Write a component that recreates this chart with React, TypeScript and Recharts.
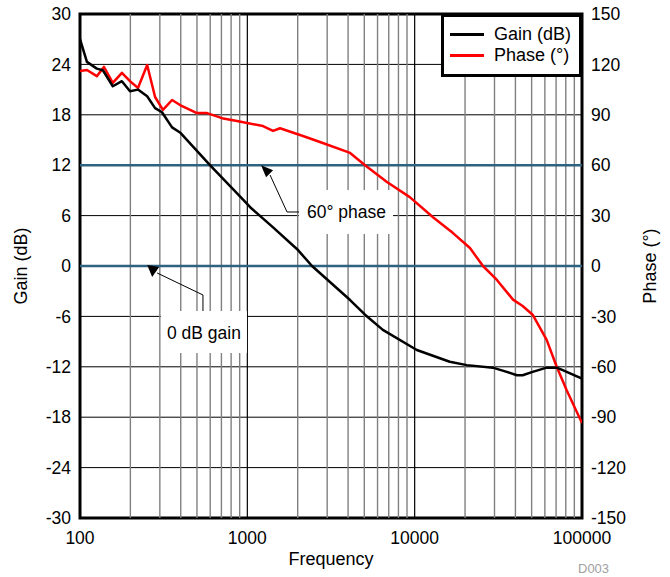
import React from 'react';
import {
  ComposedChart,
  Line,
  XAxis,
  YAxis,
  CartesianGrid,
  ReferenceLine,
  ReferenceDot,
  ReferenceArea,
  Legend,
} from 'recharts';

const FONT = '"Liberation Sans", Arial, Helvetica, sans-serif';

const gainFreq = [100, 110, 126, 137, 157, 178, 199, 222, 252, 281, 309, 355, 396, 598, 943, 1040, 1425, 1985, 2436, 4113, 5051, 6454, 10300, 16200, 20500, 29300, 35500, 40800, 44200, 50700, 61500, 70600, 76700, 100000];
const gainDb = [27.0, 24.3, 23.5, 23.3, 21.4, 22.0, 20.8, 21.0, 20.2, 18.8, 18.3, 16.5, 15.9, 12.0, 7.9, 7.0, 4.6, 2.0, 0, -4.05, -5.8, -7.6, -10, -11.4, -11.8, -12.1, -12.6, -13, -13, -12.6, -12.1, -12.1, -12.4, -13.4];

const phaseFreq = [100, 110, 126, 139, 157, 178, 199, 222, 252, 281, 313, 355, 396, 500, 574, 706, 867, 1240, 1425, 1568, 2150, 2718, 4113, 5051, 6830, 9350, 12870, 16950, 21400, 25600, 31000, 38700, 44200, 50700, 61500, 70600, 81000, 100000];
const phaseDeg = [116, 116.7, 113, 118.5, 109, 115, 110, 106, 119.6, 100.6, 92.9, 98.8, 95.8, 91, 91, 88, 86.3, 83.3, 80.4, 82, 77.4, 73.8, 67.3, 60, 50, 41, 29, 19.6, 10.7, 0, -8.3, -20, -23.8, -29, -44, -60, -74, -93.5];

const xTicks = [100, 1000, 10000, 100000];
const leftTicks = [-30, -24, -18, -12, -6, 0, 6, 12, 18, 24, 30];
const rightTicks = [-150, -120, -90, -60, -30, 0, 30, 60, 90, 120, 150];
const minorGrid = [200, 300, 400, 500, 600, 700, 800, 900, 2000, 3000, 4000, 5000, 6000, 7000, 8000, 9000, 20000, 30000, 40000, 50000, 60000, 70000, 80000, 90000];
const majorGrid = [1000, 10000];
const markerLines = [12, 0];

// annotation anchors (frequency, gain dB)
const phaseArrowTip = { f: 1208, g: 12 };
const phaseLeader = [
  { x: 1367, y: 10.83 },
  { x: 1727, y: 6.43 },
  { x: 2065, y: 6.43 },
];
const gainArrowTip = { f: 252, g: 0 };
const gainLeader = [
  { x: 289, y: -0.83 },
  { x: 543, y: -3.45 },
  { x: 543, y: -5.36 },
];
const phaseLabel = '60° phase';
const gainLabel = '0 dB gain';

const gainData = gainFreq.map((f, i) => ({ f, g: gainDb[i] }));
const phaseData = phaseFreq.map((f, i) => ({ f, p: phaseDeg[i] }));

const tickStyle = { fontSize: 17.5, fill: '#000', fontFamily: FONT };

const LegendBox = (props: any) => {
  const payload = props.payload || [];
  return (
    <div
      style={{
        width: 141,
        height: 63,
        boxSizing: 'border-box',
        border: '3px solid #000',
        background: '#fff',
        position: 'relative',
        fontFamily: FONT,
        fontSize: 18,
        color: '#000',
      }}
    >
      {payload.map((e: any, i: number) => (
        <div
          key={i}
          style={{ position: 'absolute', left: 6, top: 7 + i * 21, height: 21, display: 'flex', alignItems: 'center', whiteSpace: 'nowrap' }}
        >
          <div style={{ width: 34, height: 3, background: e.color, marginRight: 10 }} />
          <span>{e.value}</span>
        </div>
      ))}
    </div>
  );
};

export default function App() {
  return (
    <div style={{ position: 'absolute', left: 0, top: 0, width: 670, height: 577, background: '#fff' }}>
      <ComposedChart width={670} height={577} margin={{ top: 14, right: 0, bottom: 0, left: 0 }} style={{ fontFamily: FONT }}>
        <XAxis
          type="number"
          dataKey="f"
          scale="log"
          domain={[100, 100000]}
          ticks={xTicks}
          allowDataOverflow
          height={59}
          axisLine={false}
          tickLine={false}
          tickSize={0}
          tickMargin={14}
          tick={tickStyle}
          label={{ value: 'Frequency', position: 'insideBottom', offset: 12, style: { fontSize: 18, fill: '#000', fontFamily: FONT } }}
        />
        <YAxis
          yAxisId="left"
          width={80}
          domain={[-30, 30]}
          ticks={leftTicks}
          allowDataOverflow
          axisLine={false}
          tickLine={false}
          tickSize={0}
          tickMargin={9}
          tick={tickStyle}
          label={{ value: 'Gain (dB)', angle: -90, position: 'insideLeft', offset: 21, style: { textAnchor: 'middle', fontSize: 18, fill: '#000', fontFamily: FONT } }}
        />
        <YAxis
          yAxisId="right"
          orientation="right"
          width={88}
          domain={[-150, 150]}
          ticks={rightTicks}
          allowDataOverflow
          axisLine={false}
          tickLine={false}
          tickSize={0}
          tickMargin={9}
          tick={{ ...tickStyle, textAnchor: 'start' }}
          label={{ value: 'Phase (°)', angle: -90, position: 'insideRight', offset: 20, style: { textAnchor: 'middle', fontSize: 18, fill: '#000', fontFamily: FONT } }}
        />
        <CartesianGrid yAxisId="left" vertical={false} stroke="#000" strokeWidth={1} />
        {minorGrid.map((v) => (
          <ReferenceLine key={'m' + v} yAxisId="left" x={v} stroke="#808080" strokeWidth={1.4} />
        ))}
        {majorGrid.map((v) => (
          <ReferenceLine key={'M' + v} yAxisId="left" x={v} stroke="#000" strokeWidth={1.2} />
        ))}
        {markerLines.map((v) => (
          <ReferenceLine key={'k' + v} yAxisId="left" y={v} stroke="#2d6280" strokeWidth={2.6} />
        ))}

        <ReferenceDot
          yAxisId="left"
          x={phaseLeader[2].x}
          y={phaseLeader[2].y}
          r={0}
          shape={(p: any) => (
            <g>
              <rect x={p.cx - 1} y={p.cy - 22} width={94} height={44} fill="#fff" />
              <text x={p.cx + 7} y={p.cy + 6} fontSize={17.5} fontFamily={FONT} fill="#000">{phaseLabel}</text>
            </g>
          )}
        />
        <ReferenceDot
          yAxisId="left"
          x={gainLeader[2].x}
          y={gainLeader[2].y}
          r={0}
          shape={(p: any) => (
            <g>
              <rect x={p.cx - 42} y={p.cy} width={86} height={42} fill="#fff" />
              <text x={p.cx + 1} y={p.cy + 28} fontSize={17.5} fontFamily={FONT} fill="#000" textAnchor="middle">{gainLabel}</text>
            </g>
          )}
        />
        <ReferenceLine yAxisId="left" segment={[phaseLeader[0], phaseLeader[1]]} stroke="#000" strokeWidth={1} />
        <ReferenceLine yAxisId="left" segment={[phaseLeader[1], phaseLeader[2]]} stroke="#000" strokeWidth={1} />
        <ReferenceLine yAxisId="left" segment={[gainLeader[0], gainLeader[1]]} stroke="#000" strokeWidth={1} />
        <ReferenceLine yAxisId="left" segment={[gainLeader[1], gainLeader[2]]} stroke="#000" strokeWidth={1} />
        <ReferenceDot
          yAxisId="left"
          x={phaseArrowTip.f}
          y={phaseArrowTip.g}
          r={0}
          shape={(p: any) => (
            <polygon points={`${p.cx},${p.cy} ${p.cx + 12},${p.cy + 5} ${p.cx + 5},${p.cy + 12}`} fill="#000" />
          )}
        />
        <ReferenceDot
          yAxisId="left"
          x={gainArrowTip.f}
          y={gainArrowTip.g}
          r={0}
          shape={(p: any) => (
            <polygon points={`${p.cx},${p.cy - 1} ${p.cx + 12},${p.cy + 1} ${p.cx + 5},${p.cy + 11}`} fill="#000" />
          )}
        />

        <Line
          yAxisId="right"
          data={phaseData}
          dataKey="p"
          name="Phase (°)"
          type="linear"
          stroke="#ff0000"
          strokeWidth={2.5}
          strokeLinejoin="round"
          dot={false}
          activeDot={false}
          isAnimationActive={false}
          legendType="line"
        />
        <Line
          yAxisId="left"
          data={gainData}
          dataKey="g"
          name="Gain (dB)"
          type="linear"
          stroke="#000"
          strokeWidth={2.5}
          strokeLinejoin="round"
          dot={false}
          activeDot={false}
          isAnimationActive={false}
          legendType="line"
        />
        <ReferenceArea
          yAxisId="left"
          x1={100}
          x2={100000}
          y1={-30}
          y2={30}
          fill="none"
          fillOpacity={0}
          stroke="#000"
          strokeWidth={3}
          ifOverflow="visible"
        />
        <Legend
          layout="horizontal"
          verticalAlign="middle"
          align="center"
          content={(p: any) => (
            <LegendBox payload={[...(p.payload || [])].sort((a: any) => (a.value === 'Gain (dB)' ? -1 : 1))} />
          )}
          wrapperStyle={{ position: 'absolute', left: 441, top: 14, width: 141, height: 63 }}
        />
      </ComposedChart>
      <div
        style={{ position: 'absolute', left: 578, top: 561, fontFamily: FONT, fontSize: 13, color: '#a0a0a0', lineHeight: '16px' }}
      >
        D003
      </div>
    </div>
  );
}
